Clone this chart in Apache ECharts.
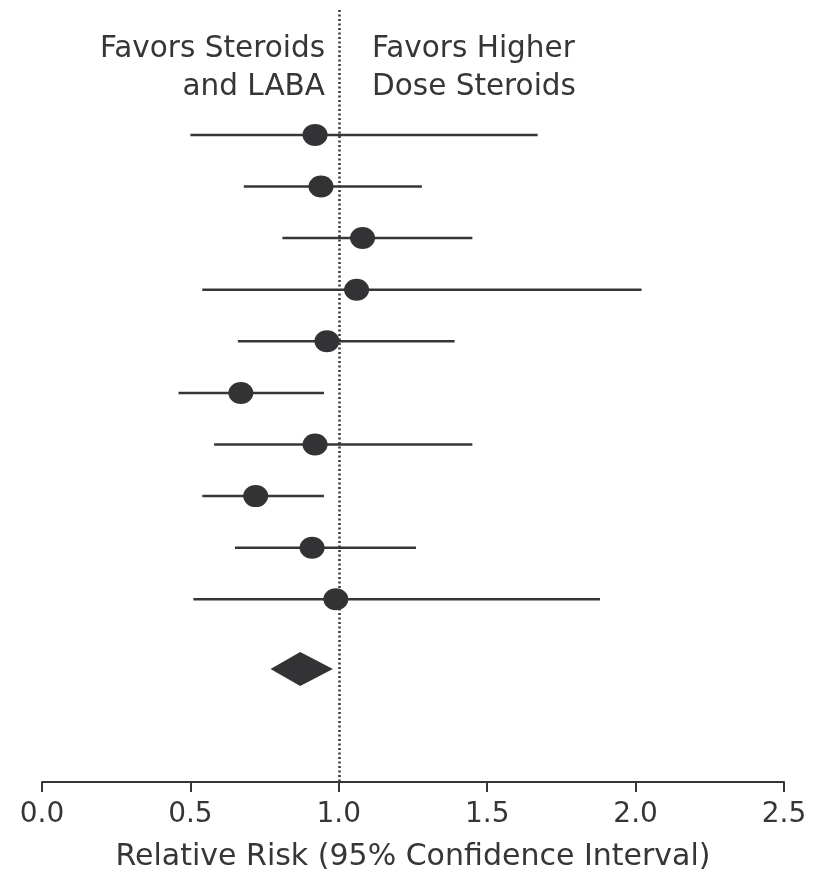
<!DOCTYPE html>
<html>
<head>
<meta charset="utf-8">
<script src="https://cdn.jsdelivr.net/npm/echarts@6/dist/echarts.min.js"></script>
<style>
  html, body { margin: 0; padding: 0; background: #fff; }
  #chart { width: 813px; height: 877px; }
</style>
</head>
<body>
<div id="chart"></div>
<script>
// Relative risk and 95% confidence limits for each trial (top to bottom)
const pointEstimate = [0.92, 0.94, 1.08, 1.06, 0.96, 0.67, 0.92, 0.72, 0.91, 0.99];
const lowerLimit    = [0.50, 0.68, 0.81, 0.54, 0.66, 0.46, 0.58, 0.54, 0.65, 0.51];
const upperLimit    = [1.67, 1.28, 1.45, 2.02, 1.39, 0.95, 1.45, 0.95, 1.26, 1.88];

// Pooled estimate (drawn as a diamond)
const pooledEstimate = 0.87;
const pooledLower = 0.77;
const pooledUpper = 0.98;

const xTicks = [0, 0.5, 1.0, 1.5, 2.0, 2.5];

// Row layout (value-axis units; row 1 is the top trial)
const POOLED_ROW = 11.35;
const INK = '#363636';
const FONT = 'DejaVu Sans';

const rows = pointEstimate.map((v, i) => [lowerLimit[i], v, upperLimit[i], i + 1]);

const chart = echarts.init(document.getElementById('chart'));

chart.setOption({
  animation: false,
  backgroundColor: '#fff',
  grid: { left: 42, right: 29, top: 10, bottom: 94 },
  xAxis: {
    type: 'value',
    min: xTicks[0],
    max: xTicks[xTicks.length - 1],
    interval: 0.5,
    splitLine: { show: false },
    axisLine: { show: true, onZero: false, lineStyle: { color: INK, width: 2 } },
    axisTick: { show: true, inside: false, length: 10, lineStyle: { color: INK, width: 2 } },
    axisLabel: {
      margin: 19,
      fontFamily: FONT, fontSize: 28, color: INK,
      formatter: v => v.toFixed(1)
    },
    name: 'Relative Risk (95% Confidence Interval)',
    nameLocation: 'middle',
    nameGap: 60,
    nameTextStyle: { fontFamily: FONT, fontSize: 30, color: INK, verticalAlign: 'top' }
  },
  yAxis: {
    type: 'value',
    inverse: true,
    min: -1.42,
    max: 13.54,
    show: false
  },
  graphic: [
    {
      type: 'text', x: 325, y: 30,
      style: {
        text: 'Favors Steroids\nand LABA', align: 'right', verticalAlign: 'top',
        fontFamily: FONT, fontSize: 29.5, lineHeight: 38, fill: INK
      }
    },
    {
      type: 'text', x: 372, y: 30,
      style: {
        text: 'Favors Higher\nDose Steroids', align: 'left', verticalAlign: 'top',
        fontFamily: FONT, fontSize: 29.5, lineHeight: 38, fill: INK
      }
    }
  ],
  series: [
    {
      // confidence interval lines
      type: 'custom',
      data: rows,
      encode: { x: [0, 2], y: 3 },
      renderItem: (params, api) => {
        const a = api.coord([api.value(0), api.value(3)]);
        const b = api.coord([api.value(2), api.value(3)]);
        return {
          type: 'line',
          shape: { x1: a[0], y1: a[1], x2: b[0], y2: b[1] },
          style: { stroke: INK, lineWidth: 2.5 }
        };
      },
      markLine: {
        silent: true,
        symbol: ['none', 'none'],
        label: { show: false },
        lineStyle: { color: INK, type: [2, 2.5], width: 2.5 },
        data: [{ xAxis: 1 }]
      },
      z: 2
    },
    {
      // point estimates
      type: 'scatter',
      data: rows.map(r => [r[1], r[3]]),
      symbol: 'circle',
      symbolSize: [25, 22],
      itemStyle: { color: '#333335', opacity: 1 },
      z: 3
    },
    {
      // pooled estimate diamond
      type: 'custom',
      data: [[pooledLower, pooledEstimate, pooledUpper, POOLED_ROW]],
      encode: { x: [0, 2], y: 3 },
      renderItem: (params, api) => {
        const y = api.value(3);
        const l = api.coord([api.value(0), y]);
        const c = api.coord([api.value(1), y]);
        const r = api.coord([api.value(2), y]);
        const h = 17;
        return {
          type: 'polygon',
          shape: { points: [[l[0], l[1]], [c[0], c[1] - h], [r[0], r[1]], [c[0], c[1] + h]] },
          style: { fill: '#333335' }
        };
      },
      z: 3
    }
  ]
});
</script>
</body>
</html>
